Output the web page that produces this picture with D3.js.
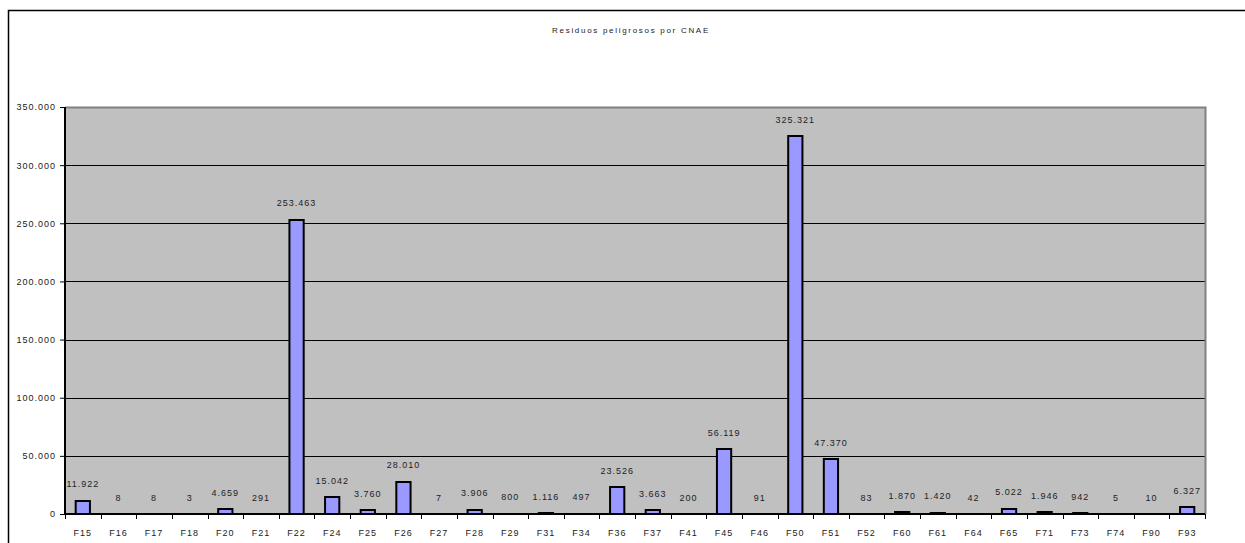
<!DOCTYPE html>
<html>
<head>
<meta charset="utf-8">
<script src="https://cdn.jsdelivr.net/npm/d3@7"></script>
<style>
  html, body { margin: 0; padding: 0; background: #fff; }
  svg { display: block; }
  text { font-family: "Liberation Sans", Arial, sans-serif; fill: #222; }
</style>
</head>
<body>
<svg id="chart" width="1245" height="543"></svg>
<script>
// Residuos peligrosos por CNAE
const categories = ["F15","F16","F17","F18","F20","F21","F22","F24","F25","F26","F27","F28","F29","F31","F34","F36","F37","F41","F45","F46","F50","F51","F52","F60","F61","F64","F65","F71","F73","F74","F90","F93"];
const values = [11922, 8, 8, 3, 4659, 291, 253463, 15042, 3760, 28010, 7, 3906, 800, 1116, 497, 23526, 3663, 200, 56119, 91, 325321, 47370, 83, 1870, 1420, 42, 5022, 1946, 942, 5, 10, 6327];
const yTicks = [0, 50000, 100000, 150000, 200000, 250000, 300000, 350000];
const title = "Residuos peligrosos por CNAE";

const esLocale = d3.formatLocale({ decimal: ",", thousands: ".", grouping: [3], currency: ["", " €"] });
const fmt = esLocale.format(",d");

const svg = d3.select("#chart");
const plot = { left: 65, top: 107, right: 1205, bottom: 514 };

// outer chart frame
svg.append("rect")
  .attr("x", 8.5).attr("y", 10.5)
  .attr("width", 1260).attr("height", 560)
  .attr("fill", "#fff").attr("stroke", "#000").attr("stroke-width", 1.5);

svg.append("text")
  .attr("x", 631).attr("y", 33)
  .attr("text-anchor", "middle")
  .attr("font-size", 8)
  .attr("letter-spacing", 1.7)
  .text(title);

const x = d3.scaleBand().domain(categories).range([plot.left, plot.right]).paddingInner(0).paddingOuter(0);
const y = d3.scaleLinear().domain([0, 350000]).range([plot.bottom, plot.top]);

// plot background
svg.append("rect")
  .attr("x", plot.left).attr("y", plot.top)
  .attr("width", plot.right - plot.left).attr("height", plot.bottom - plot.top)
  .attr("fill", "#c0c0c0");

// gridlines
svg.append("g").selectAll("line").data(yTicks.filter(d => d > 0 && d < 350000)).join("line")
  .attr("x1", plot.left).attr("x2", plot.right)
  .attr("y1", d => Math.round(y(d)) + 0.5).attr("y2", d => Math.round(y(d)) + 0.5)
  .attr("stroke", "#000").attr("stroke-width", 1);

// plot frame (top and right)
svg.append("path")
  .attr("d", `M${plot.left},${plot.top + 0.5}H${plot.right + 0.5}V${plot.bottom}`)
  .attr("fill", "none").attr("stroke", "#808080").attr("stroke-width", 2);

// bars (heights snap down to whole pixels; sub-pixel bars are hidden)
const barW = x.bandwidth() * 0.4;
const barH = d => Math.floor(plot.bottom - y(d));
svg.append("g").selectAll("rect").data(values).join("rect")
  .attr("x", (d, i) => x(categories[i]) + (x.bandwidth() - barW) / 2)
  .attr("y", d => plot.bottom - barH(d))
  .attr("width", barW)
  .attr("height", d => barH(d))
  .attr("display", d => barH(d) > 0 ? null : "none")
  .attr("fill", "#9999ff")
  .attr("stroke", "#000").attr("stroke-width", 2);

// value labels
svg.append("g").selectAll("text").data(values).join("text")
  .attr("x", (d, i) => x(categories[i]) + x.bandwidth() / 2)
  .attr("y", d => y(d) - 13)
  .attr("text-anchor", "middle")
  .attr("font-size", 9)
  .attr("letter-spacing", 1)
  .text(d => fmt(d));

// y axis
const yAxis = d3.axisLeft(y).tickValues(yTicks).tickSize(5).tickPadding(4).tickFormat(d => fmt(d));
const gy = svg.append("g").attr("transform", `translate(${plot.left},0)`).call(yAxis);
gy.select(".domain").attr("stroke", "#000").attr("stroke-width", 2).attr("d", `M0,${plot.top}V${plot.bottom}`);
gy.selectAll(".tick line").attr("stroke", "#000");
gy.selectAll(".tick text").attr("font-size", 9).attr("letter-spacing", 1)
  .attr("font-family", "Liberation Sans, Arial, sans-serif").attr("fill", "#222");

// x axis
const xAxis = d3.axisBottom(x).tickSize(0).tickPadding(16);
const gx = svg.append("g").attr("transform", `translate(0,${plot.bottom})`).call(xAxis);
gx.select(".domain").attr("stroke", "#000").attr("stroke-width", 2).attr("d", `M${plot.left},0H${plot.right}`);
gx.selectAll(".tick text").attr("font-size", 9).attr("letter-spacing", 1)
  .attr("font-family", "Liberation Sans, Arial, sans-serif").attr("fill", "#222");

// tick marks between categories
const bounds = categories.map(c => x(c)).concat([plot.right]);
gx.append("g").selectAll("line").data(bounds).join("line")
  .attr("x1", d => Math.round(d) + 0.5).attr("x2", d => Math.round(d) + 0.5)
  .attr("y1", 0).attr("y2", 5)
  .attr("stroke", "#000");
</script>
</body>
</html>
